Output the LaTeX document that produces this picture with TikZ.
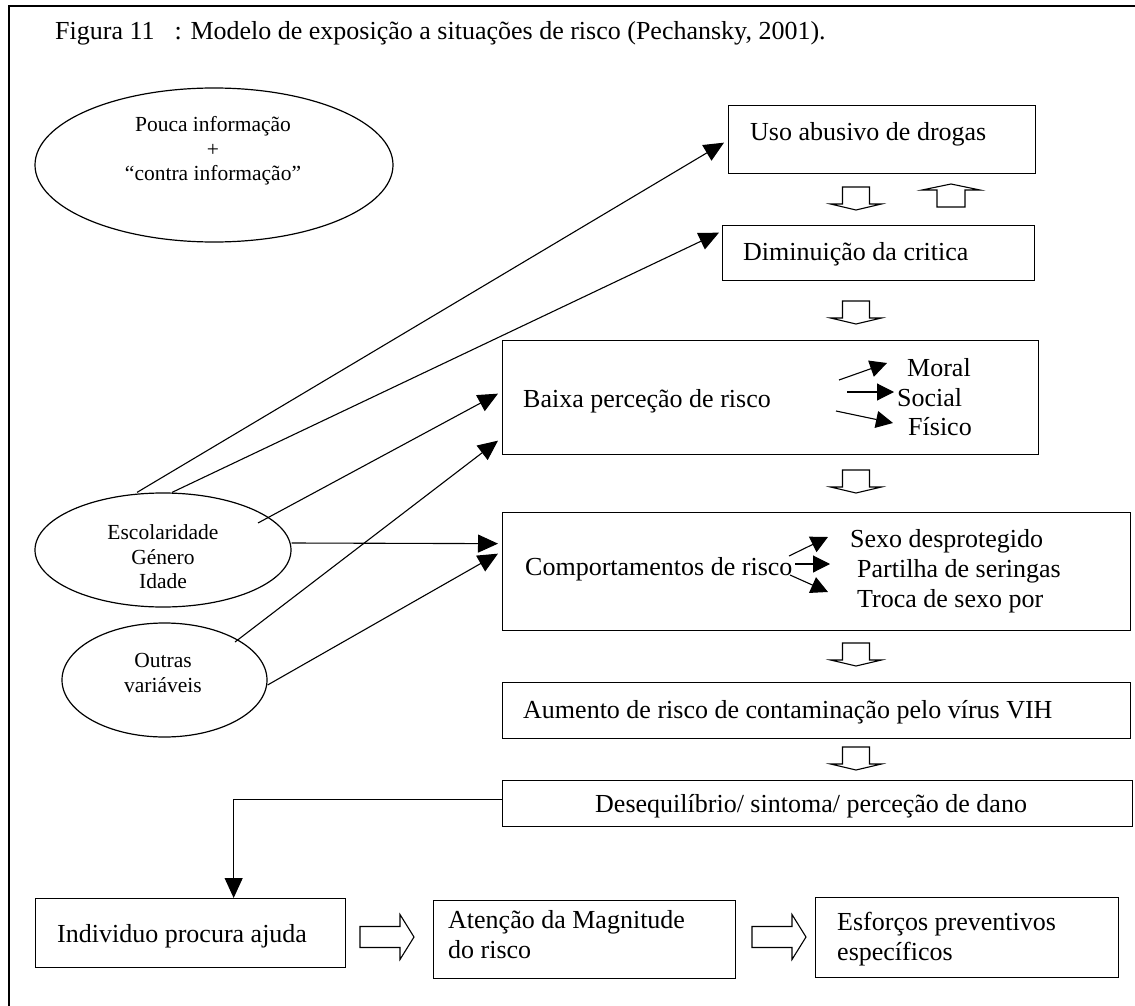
\documentclass[tikz,border=0pt]{standalone}
\usepackage{fontspec}
\setmainfont{Liberation Serif}
\usetikzlibrary{arrows.meta,shapes.geometric,calc}

\tikzset{
  box/.style={draw, line width=1.3pt, rectangle, inner sep=0pt, anchor=north west},
  oval/.style={draw, line width=1.2pt, ellipse, inner sep=0pt},
  lbl/.style={inner sep=0pt, anchor=base west, font=\fontsize{26}{30}\selectfont},
  olbl/.style={inner sep=0pt, align=center, font=\fontsize{21.5}{24.5}\selectfont},
  link/.style={line width=1.1pt, -{Triangle[length=20pt,width=18pt]}},
  mini/.style={line width=1.1pt, -{Triangle[length=17pt,width=17pt]}},
  hollow/.style={draw, line width=1.1pt, fill=white, line join=miter},
  downblk/.pic={\draw[hollow] (-13.5,0) -- (13.5,0) -- (13.5,17) -- (25.5,17) -- (0,23) -- (-25.5,17) -- (-13.5,17) -- cycle;},
  upblk/.pic={\draw[hollow] (-14,0) -- (14,0) -- (14,-17) -- (29,-17) -- (0,-23) -- (-29,-17) -- (-14,-17) -- cycle;},
  rightblk/.pic={\draw[hollow] (0,-10.5) -- (40,-10.5) -- (40,-22.5) -- (54,0) -- (40,22.5) -- (40,10.5) -- (0,10.5) -- cycle;}
}

\begin{document}
\begin{tikzpicture}[x=1pt,y=-1pt]
\useasboundingbox (0,0) rectangle (1135,1006);

% frame and caption
\draw[line width=1.5pt] (9,1006) -- (9,6) -- (1135,6);
\node[anchor=base west, inner sep=0pt, font=\fontsize{26}{30}\selectfont] (title) at (55,40)
  {Figura 11\hspace{20pt}: Modelo de exposição a situações de risco (Pechansky, 2001).};

% influencing factors
\node[oval, minimum width=358pt, minimum height=154pt] (info) at (214,165) {};
\node[olbl] (infoT) at (213,151) {Pouca informação\\+\\“contra informação”};
\node[oval, minimum width=256pt, minimum height=114pt] (esc) at (163,550) {};
\node[olbl] (escT) at (163,557) {Escolaridade\\Género\\Idade};
\node[oval, minimum width=205pt, minimum height=114pt] (outr) at (164.5,680) {};
\node[olbl] (outrT) at (163,673) {Outras\\variáveis};

% main chain
\node[box, minimum width=307pt, minimum height=68pt] (uso) at (728,105) {};
\node[lbl] (usoT) at (750,141) {Uso abusivo de drogas};
\node[box, minimum width=312pt, minimum height=55pt] (dim) at (722,225) {};
\node[lbl] (dimT) at (743,260) {Diminuição da critica};
\node[box, minimum width=536pt, minimum height=114pt] (baixa) at (502,340) {};
\node[lbl] (baixaT) at (523,407) {Baixa perceção de risco};
\node[lbl] (moral) at (907,376) {Moral};
\node[lbl] (social) at (897,406) {Social};
\node[lbl] (fisico) at (908,435) {Físico};
\node[box, minimum width=628pt, minimum height=118pt] (comp) at (502,512) {};
\node[lbl] (compT) at (525,575) {Comportamentos de risco};
\node[lbl] (sexo) at (850,547) {Sexo desprotegido};
\node[lbl] (part) at (857,577) {Partilha de seringas};
\node[lbl] (troca) at (857,607) {Troca de sexo por};
\node[box, minimum width=628pt, minimum height=56pt] (aum) at (502,682) {};
\node[lbl] (aumT) at (523,718) {Aumento de risco de contaminação pelo vírus VIH};
\node[box, minimum width=630pt, minimum height=46pt] (deseq) at (502,780) {};
\node[lbl] (deseqT) at (595,812) {Desequilíbrio/ sintoma/ perceção de dano};

% bottom row (two-line labels sit on the baseline of their last line)
\node[box, minimum width=310pt, minimum height=69pt] (ind) at (35,898) {};
\node[lbl] (indT) at (57,942) {Individuo procura ajuda};
\node[box, minimum width=302pt, minimum height=78pt] (aten) at (433,900) {};
\node[lbl, align=left] (atenT) at (448,958) {Atenção da Magnitude\\do risco};
\node[box, minimum width=303pt, minimum height=80pt] (esf) at (815,897) {};
\node[lbl, align=left] (esfT) at (837,960) {Esforços preventivos\\específicos};

% hollow block arrows
\pic at (856,187) {downblk};
\pic at (951,207) {upblk};
\pic at (856,301) {downblk};
\pic at (856,470) {downblk};
\pic at (856,643) {downblk};
\pic at (856,747) {downblk};
\pic at (360,937) {rightblk};
\pic at (752,937) {rightblk};

% factor arrows
\draw[link] ([xshift=-26pt]esc.north) -- ($(uso.west)+(-4,3)$);
\draw[link] ([xshift=9pt]esc.north) -- ($(dim.west)+(-3,-20.5)$);
\coordinate (escIn) at (258,523);
\draw[link] (escIn) -- ($(baixa.west)+(-4,-4)$);
\draw[link] ([yshift=7pt]esc.east) -- ($(comp.west)+(-4,-28)$);
\coordinate (outrIn) at (235,642);
\draw[link] (outrIn) -- ($(baixa.west)+(-4,43)$);
\draw[link] ([yshift=-5pt]outr.east) -- ($(comp.west)+(-4,-18)$);

% small arrows towards the sub-items
\coordinate (m1) at (839,380);
\coordinate (m2) at (847,392);
\coordinate (m3) at (836,411);
\draw[mini] (m1) -- ($(moral.base west)+(-20,-13)$);
\draw[mini] (m2) -- ($(social.base west)+(-3,-14)$);
\draw[mini] (m3) -- ($(fisico.base west)+(-15,-12)$);
\coordinate (c1) at (789,556);
\coordinate (c2) at (795,564);
\coordinate (c3) at (790,575);
\draw[mini] (c1) -- ($(sexo.base west)+(-22,-10)$);
\draw[mini] (c2) -- ($(part.base west)+(-27,-13)$);
\draw[mini] (c3) -- ($(troca.base west)+(-29,-15)$);

% feedback to the person seeking help
\draw[link] ([yshift=4pt]deseq.west) -| ([xshift=43pt]ind.north);
\end{tikzpicture}
\end{document}
